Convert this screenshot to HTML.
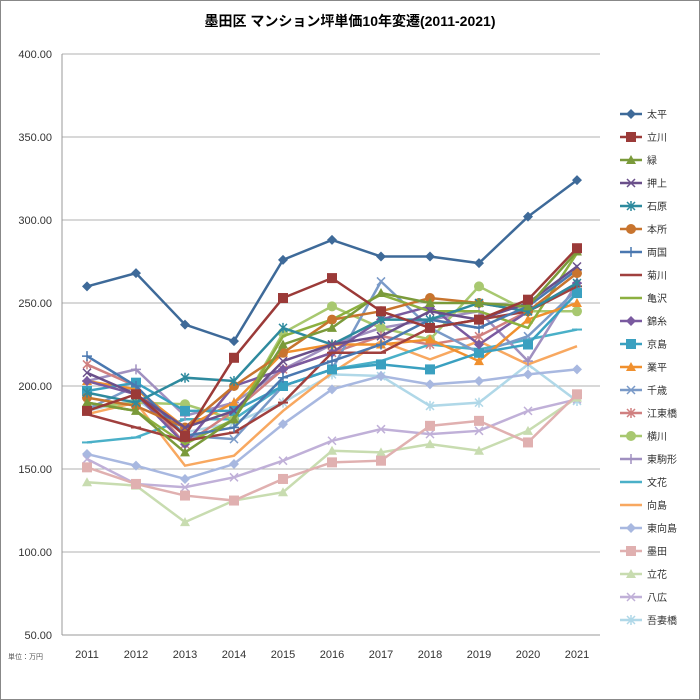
<!DOCTYPE html><html><head><meta charset="utf-8"><style>body{margin:0;background:#fff}svg{display:block;font-family:"Liberation Sans","Noto Sans CJK JP",sans-serif}</style></head><body>
<svg id="s" width="700" height="700" viewBox="0 0 700 700"></svg>
<script>
const S=document.getElementById('s');let h='<rect x="0.5" y="0.5" width="699" height="699" fill="#fff" stroke="#888"/>';
h+='<text x="350" y="26" font-size="14" font-weight="bold" text-anchor="middle" fill="#000">墨田区 マンション坪単価10年変遷(2011-2021)</text>';
const Y=v=>635-(v-50)*581/350, X=i=>87+i*49;
for(let v=50;v<=400;v+=50){const y=Y(v);if(v>50)h+=`<line x1="62" x2="600" y1="${y}" y2="${y}" stroke="#b0b0b0"/>`;h+=`<text x="52" y="${y+4}" font-size="11" text-anchor="end" fill="#333">${v.toFixed(2)}</text>`;}
h+='<line x1="62" x2="62" y1="54" y2="635" stroke="#999"/><line x1="62" x2="600" y1="635" y2="635" stroke="#999"/>';
for(let i=0;i<11;i++)h+=`<text x="${X(i)}" y="658" font-size="11" text-anchor="middle" fill="#333">${2011+i}</text>`;
h+='<text x="8" y="659" font-size="7" fill="#555">単位：万円</text>';
const D=[
["太平","#3e6a99","d",[260,268,237,227,276,288,278,278,274,302,324]],
["立川","#9b3a38","s",[185,195,170,217,253,265,245,235,240,252,283]],
["緑","#7a9a3a","t",[190,185,160,180,225,235,256,250,250,248,281]],
["押上","#6a4f8a","x",[208,195,175,185,215,225,230,245,240,250,272]],
["石原","#2e8a9e","a",[196,190,205,203,235,225,240,240,250,245,262]],
["本所","#c8742e","c",[193,188,175,200,220,240,245,253,250,245,268]],
["両国","#4a78b0","p",[218,200,170,175,205,215,225,240,235,248,270]],
["菊川","#a0403e","m",[183,175,167,172,190,220,220,235,240,245,260]],
["亀沢","#8cb040","n",[190,185,165,180,230,240,255,245,245,235,280]],
["錦糸","#7a5aa0","d",[203,195,165,200,210,220,240,248,225,245,262]],
["京島","#3aa0c0","s",[197,202,185,185,200,210,213,210,220,225,256]],
["業平","#f0902e","t",[203,198,175,190,220,225,225,228,215,240,250]],
["千歳","#7a9ac8","x",[186,200,170,168,200,210,263,235,220,230,258]],
["江東橋","#d08080","a",[213,200,165,185,210,220,230,225,230,245,260]],
["横川","#a8c870","c",[187,190,189,180,232,248,235,228,260,245,245]],
["東駒形","#a090c0","p",[203,210,182,190,210,225,235,240,245,215,262]],
["文花","#4ab0c8","m",[166,169,180,180,200,210,215,225,222,228,234]],
["向島","#f8a860","n",[183,190,152,158,185,208,227,216,227,213,224]],
["東向島","#a8b8e0","d",[159,152,144,153,177,198,206,201,203,207,210]],
["墨田","#e0b0b0","s",[151,141,134,131,144,154,155,176,179,166,195]],
["立花","#c8dcb0","t",[142,140,118,131,136,161,160,165,161,173,193]],
["八広","#c0b0d8","x",[156,141,139,145,155,167,174,171,173,185,192]],
["吾妻橋","#b0d8e8","a",[185,192,172,178,190,207,206,188,190,213,191]]];
function mk(t,x,y,c){switch(t){case"d":return`<path d="M${x} ${y-5}L${x+5} ${y}L${x} ${y+5}L${x-5} ${y}Z" fill="${c}"/>`;
case"s":return`<rect x="${x-5}" y="${y-5}" width="10" height="10" fill="${c}"/>`;
case"t":return`<path d="M${x} ${y-5}L${x+5} ${y+4}L${x-5} ${y+4}Z" fill="${c}"/>`;
case"x":return`<path d="M${x-4} ${y-4}L${x+4} ${y+4}M${x+4} ${y-4}L${x-4} ${y+4}" stroke="${c}" stroke-width="1.5"/>`;
case"a":return`<path d="M${x-4} ${y-4}L${x+4} ${y+4}M${x+4} ${y-4}L${x-4} ${y+4}M${x} ${y-5}V${y+5}" stroke="${c}" stroke-width="1.5"/>`;
case"c":return`<circle cx="${x}" cy="${y}" r="5" fill="${c}"/>`;
case"p":return`<path d="M${x-5} ${y}H${x+5}M${x} ${y-5}V${y+5}" stroke="${c}" stroke-width="1.5"/>`;
case"m":return`<path d="M${x-5} ${y}H${x+5}" stroke="${c}" stroke-width="2"/>`;}return"";}
for(let k=D.length-1;k>=0;k--){const[n,c,t,v]=D[k];h+=`<polyline fill="none" stroke="${c}" stroke-width="2.5" points="${v.map((a,i)=>X(i)+','+Y(a)).join(' ')}"/>`;v.forEach((a,i)=>h+=mk(t,X(i),Y(a),c));}
D.forEach(([n,c,t],k)=>{const y=114+k*23;h+=`<line x1="620" x2="642" y1="${y}" y2="${y}" stroke="${c}" stroke-width="2.5"/>`+mk(t,631,y,c)+`<text x="647" y="${y+4}" font-size="10" fill="#333">${n}</text>`;});
S.innerHTML=h;
</script></body></html>
